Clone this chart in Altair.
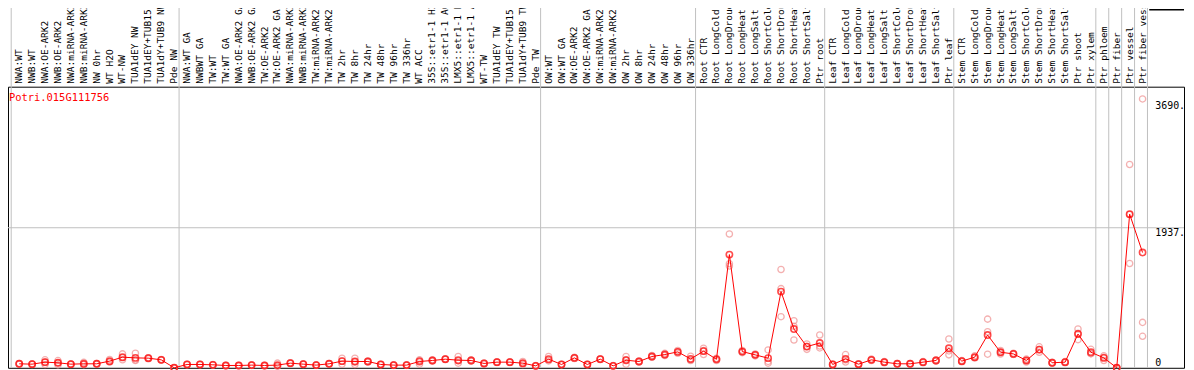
import altair as alt
import pandas as pd

cats = [
    "NWA:WT", "NWB:WT", "NWA:OE-ARK2", "NWB:OE-ARK2", "NWA:miRNA-ARK2", "NWB:miRNA-ARK2",
    "NW 0hr", "WT H2O", "WT-NW", "TUA1dEY NW", "TUA1dEY+TUB15 NW", "TUA1dY+TUB9 NW", "Pde NW",
    "NWA:WT GA", "NWBWT GA", "TW:WT", "TW:WT GA", "NWA:OE-ARK2 GA", "NWB:OE-ARK2 GA",
    "TW:OE-ARK2", "TW:OE-ARK2 GA", "NWA:miRNA-ARK2 GA", "NWB:miRNA-ARK2 GA", "TW:miRNA-ARK2",
    "TW:miRNA-ARK2 GA", "TW 2hr", "TW 8hr", "TW 24hr", "TW 48hr", "TW 96hr", "TW 336hr",
    "WT ACC", "35S::etr1-1 H2O", "35S::etr1-1 ACC", "LMX5::etr1-1 H2O", "LMX5::etr1-1 ACC",
    "WT-TW", "TUA1dEY TW", "TUA1dEY+TUB15 TW", "TUA1dY+TUB9 TW", "Pde TW",
    "OW:WT", "OW:WT GA", "OW:OE-ARK2", "OW:OE-ARK2 GA", "OW:miRNA-ARK2", "OW:miRNA-ARK2 GA",
    "OW 2hr", "OW 8hr", "OW 24hr", "OW 48hr", "OW 96hr", "OW 336hr",
    "Root CTR", "Root LongCold", "Root LongDrought", "Root LongHeat", "Root LongSalt",
    "Root ShortCold", "Root ShortDrought", "Root ShortHeat", "Root ShortSalt", "Ptr root",
    "Leaf CTR", "Leaf LongCold", "Leaf LongDrought", "Leaf LongHeat", "Leaf LongSalt",
    "Leaf ShortCold", "Leaf ShortDrought", "Leaf ShortHeat", "Leaf ShortSalt", "Ptr leaf",
    "Stem CTR", "Stem LongCold", "Stem LongDrought", "Stem LongHeat", "Stem LongSalt",
    "Stem ShortCold", "Stem ShortDrought", "Stem ShortHeat", "Stem ShortSalt", "Ptr shoot",
    "Ptr xylem", "Ptr phloem", "Ptr fiber", "Ptr vessel", "Ptr fiber vessel",
]

mean_vals = [
    55, 50, 78, 69, 50, 55, 55, 92, 147, 137, 133, 110, 0,
    46, 46, 41, 32, 32, 37, 32, 37, 64, 50, 37, 55, 92, 87, 87, 46, 37, 37, 87, 101, 119, 105, 101, 60, 78, 78, 64, 27,
    119, 46, 137, 46, 119, 27, 105, 87, 156, 183, 220, 122,
    230, 117, 1566, 224, 179, 133, 1054, 536, 293, 343,
    46, 124, 50, 110, 78, 55, 55, 78, 101, 270,
    92, 147, 453, 215, 192, 101, 252, 69, 78, 467, 215,
    137, 0, 2125, 1594,
]

rep_a = [
    60, 55, 110, 100, 53, 75, 60, 115, 192, 201, 140, 115, 0,
    50, 50, 45, 36, 36, 41, 36, 64, 70, 55, 41, 60, 133, 133, 95, 50, 41, 41, 110, 110, 125, 156, 110, 66, 84, 84, 87, 30,
    156, 50, 145, 50, 125, 30, 156, 95, 170, 200, 240, 160,
    270, 130, 1851, 240, 190, 247, 1360, 650, 330, 453,
    52, 183, 55, 120, 85, 60, 60, 85, 110, 398,
    100, 165, 673, 240, 200, 120, 290, 75, 85, 536, 255,
    165, 0, 2812, 3719,
]

rep_b = [
    50, 45, 46, 40, 47, 45, 50, 80, 110, 101, 125, 105, 0,
    42, 42, 37, 28, 28, 33, 28, 25, 58, 45, 33, 50, 50, 46, 80, 42, 33, 33, 50, 92, 113, 64, 92, 54, 72, 72, 46, 24,
    105, 42, 129, 42, 113, 24, 50, 80, 145, 170, 200, 106,
    183, 100, 1440, 210, 165, 64, 1095, 385, 255, 275,
    40, 80, 45, 100, 70, 50, 50, 70, 92, 179,
    84, 133, 188, 190, 185, 80, 215, 63, 70, 389, 195,
    100, 0, 1443, 628,
]

rep_c = [
    55, 50, 78, 67, 50, 45, 55, 81, 139, 109, 134, 110, 0,
    46, 46, 41, 32, 32, 37, 32, 22, 64, 50, 37, 55, 93, 82, 86, 46, 37, 37, 101, 101, 119, 95, 101, 60, 78, 78, 59, 27,
    96, 46, 137, 46, 119, 27, 109, 86, 153, 179, 220, 100,
    237, 121, 1407, 222, 182, 88, 707, 573, 294, 301,
    46, 109, 50, 110, 79, 55, 55, 79, 101, 233,
    92, 143, 498, 215, 191, 103, 251, 69, 79, 476, 195,
    146, 0, 2120, 435,
]

group_sizes = [13, 28, 12, 10, 10, 11, 1, 1, 1, 1]
y_ticks_top = [3690, 1937]
y_ticks_top_text = ["3690.", "1937."]
y_tick_zero = [0]
y_tick_zero_text = ["0"]
grid_values = [1937]
gene_title = "Potri.015G111756"

MONO = "DejaVu Sans Mono"
W, H = 1184, 283

idx = list(range(1, len(cats) + 1))
df = pd.DataFrame({"idx": idx, "cat": cats, "mean": mean_vals})
reps = pd.DataFrame({
    "idx": idx * 3,
    "value": rep_a + rep_b + rep_c,
})
bounds = [0]
for s in group_sizes:
    bounds.append(bounds[-1] + s)
bdf = pd.DataFrame({"b": bounds})

xs = alt.Scale(domain=[0.131, 91.21], nice=False, zero=False)
ys = alt.Scale(domain=[0, 3888], nice=False, zero=False)

vgrid = alt.Chart(bdf).transform_calculate(pos="datum.b + 0.38").mark_rule(
    color="#c0c0c0", strokeWidth=1
).encode(
    x=alt.X("pos:Q", scale=xs, axis=None),
    y=alt.value(-80),
    y2=alt.value(H),
)

hgrid = alt.Chart(pd.DataFrame({"v": grid_values})).mark_rule(
    color="#c0c0c0", strokeWidth=1
).encode(y=alt.Y("v:Q", scale=ys, axis=None))

rep_layer = alt.Chart(reps).mark_point(
    shape="circle", filled=False, color="#f09090", size=40, strokeWidth=1.3
).encode(
    x=alt.X("idx:Q", scale=xs, axis=None),
    y=alt.Y("value:Q", scale=ys, axis=None),
)

line = alt.Chart(df).mark_line(color="#ff0000", strokeWidth=1).encode(
    x=alt.X("idx:Q", scale=xs, axis=None),
    y=alt.Y("mean:Q", scale=ys, axis=None),
)

means = alt.Chart(df).mark_point(
    shape="circle", filled=False, color="#ff0000", size=40, strokeWidth=1.6
).encode(
    x=alt.X("idx:Q", scale=xs, axis=None),
    y=alt.Y("mean:Q", scale=ys, axis=None),
)

labels = alt.Chart(df).mark_text(
    angle=270, align="left", baseline="middle", font=MONO, fontSize=9.6, color="black"
).encode(
    x=alt.X("idx:Q", scale=xs, axis=None),
    y=alt.value(-3),
    text="cat:N",
)

title = alt.Chart(pd.DataFrame({"t": [gene_title]})).mark_text(
    align="left", baseline="middle", font=MONO, fontSize=10.5, color="#ff0000"
).encode(x=alt.value(1), y=alt.value(11), text="t:N")

ytop = alt.Chart(pd.DataFrame({"v": y_ticks_top, "t": y_ticks_top_text})).mark_text(
    align="left", baseline="top", font=MONO, fontSize=10, color="black"
).encode(x=alt.value(1155), y=alt.Y("v:Q", scale=ys, axis=None), text="t:N")

yzero = alt.Chart(pd.DataFrame({"v": y_tick_zero, "t": y_tick_zero_text})).mark_text(
    align="left", baseline="bottom", font=MONO, fontSize=10, color="black"
).encode(x=alt.value(1155), y=alt.Y("v:Q", scale=ys, axis=None), text="t:N")

corner = alt.Chart(pd.DataFrame({"a": [0]})).mark_rule(color="black", strokeWidth=1.5).encode(
    x=alt.value(1149), x2=alt.value(W), y=alt.value(-77.5)
)

chart = alt.layer(
    vgrid, hgrid, rep_layer, line, means, labels, title, ytop, yzero, corner
).properties(
    width=W, height=H,
    autosize=alt.AutoSizeParams(type="none"),
    padding={"left": 0, "top": 78, "right": 2, "bottom": 1},
).configure_view(stroke="black", strokeWidth=1)

chart.save("out.html", embed_options={"renderer": "svg", "actions": False})
